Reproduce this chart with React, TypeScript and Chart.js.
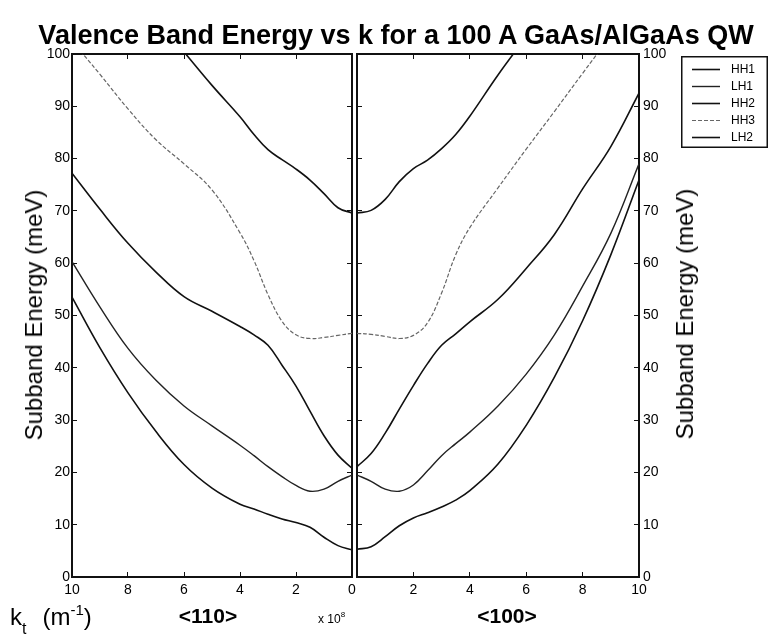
import React, { useEffect, useRef } from 'react';
import { Chart, registerables } from 'chart.js';

Chart.register(...registerables);

const FONT = '"Liberation Sans", Arial, Helvetica, sans-serif';

// ---------- data ----------
const SERIES_LABELS = ['HH1', 'LH1', 'HH2', 'HH3', 'LH2'];
const K_VALUES = [0, 0.5, 1, 1.5, 2, 2.5, 3, 3.5, 4, 5, 6, 7, 8, 9, 10]; // x 10^8 m^-1
const X_TICK_STEP = 2;
const Y_TICK_STEP = 10;

// <110> direction (left panel)
const HH1_110 = [5.2, 6.0, 7.6, 9.5, 10.4, 11.1, 12.0, 13.0, 13.9, 17.0, 21.5, 27.8, 35.2, 43.8, 53.5];
const LH1_110 = [19.5, 18.3, 16.8, 16.4, 17.5, 19.2, 21.1, 23.2, 25.2, 28.9, 32.7, 37.6, 43.7, 51.6, 60.3];
const HH2_110 = [20.8, 23.3, 27.0, 31.7, 36.5, 40.5, 44.3, 46.3, 47.9, 50.8, 53.6, 58.3, 63.8, 70.3, 77.2];
const HH3_110 = [46.6, 46.2, 45.8, 45.6, 46.3, 48.9, 54.0, 60.5, 65.8, 74.0, 79.0, 83.6, 89.5, 96.1, 102.5];
const LH2_110 = [69.6, 70.6, 73.3, 75.9, 78.0, 79.8, 81.7, 84.6, 88.0, 94.0, 100.4];

// <100> direction (right panel)
const HH1_100 = [5.3, 5.8, 7.7, 9.8, 11.3, 12.3, 13.4, 14.7, 16.5, 21.6, 29.0, 38.2, 49.0, 61.6, 75.9];
const LH1_100 = [19.5, 18.3, 16.8, 16.4, 17.6, 20.3, 23.2, 25.5, 27.7, 32.7, 38.8, 46.3, 55.6, 65.7, 79.0];
const HH2_100 = [21.1, 23.6, 27.5, 32.1, 36.6, 40.8, 44.3, 46.5, 48.8, 53.1, 59.0, 65.5, 74.2, 82.3, 92.5];
const HH3_100 = [46.6, 46.4, 46.0, 45.6, 46.2, 48.6, 54.3, 61.6, 66.8, 74.4, 81.8, 89.0, 96.3, 103.5];
const LH2_100 = [69.6, 70.1, 72.2, 75.6, 78.1, 79.7, 81.9, 84.6, 88.1, 96.0, 103.3];

const SERIES_110 = [HH1_110, LH1_110, HH2_110, HH3_110, LH2_110];
const SERIES_100 = [HH1_100, LH1_100, HH2_100, HH3_100, LH2_100];

// ---------- styles ----------
const LINE_STYLES = [
  { color: '#111', width: 1.6, dash: [] as number[] },
  { color: '#222', width: 1.4, dash: [] as number[] },
  { color: '#111', width: 1.6, dash: [] as number[] },
  { color: '#666', width: 1.2, dash: [4, 2] },
  { color: '#111', width: 1.6, dash: [] as number[] },
];

function buildDatasets(series: number[][]) {
  return series.map((vals, i) => ({
    label: SERIES_LABELS[i],
    data: vals.map((v, j) => ({ x: K_VALUES[j], y: v })),
    borderColor: LINE_STYLES[i].color,
    borderWidth: LINE_STYLES[i].width,
    borderDash: LINE_STYLES[i].dash,
    pointRadius: 0,
    fill: false,
    tension: 0.4,
  }));
}

const boxLegend = {
  id: 'boxLegend',
  afterDraw(chart: any) {
    const ctx = chart.ctx;
    const x0 = 681, y0 = 56, w = 87, h = 92;
    ctx.save();
    ctx.fillStyle = '#fff';
    ctx.fillRect(x0, y0, w, h);
    ctx.strokeStyle = '#111';
    ctx.lineWidth = 1.5;
    ctx.setLineDash([]);
    ctx.strokeRect(x0 + 0.75, y0 + 0.75, w - 1.5, h - 1.5);
    chart.data.datasets.forEach((ds: any, i: number) => {
      const y = y0 + 13.5 + i * 17;
      ctx.beginPath();
      ctx.setLineDash(ds.borderDash || []);
      ctx.strokeStyle = ds.borderColor;
      ctx.lineWidth = ds.borderWidth;
      ctx.moveTo(x0 + 11, y);
      ctx.lineTo(x0 + 39, y);
      ctx.stroke();
      ctx.setLineDash([]);
      ctx.fillStyle = '#000';
      ctx.font = `12px ${FONT}`;
      ctx.textBaseline = 'middle';
      ctx.textAlign = 'left';
      ctx.fillText(ds.label, x0 + 50, y);
    });
    ctx.restore();
  },
};

function makeOptions(isLeft: boolean): any {
  const tickFont = { family: FONT, size: 14 };
  const grid = { drawOnChartArea: false, drawTicks: true, tickLength: -5, color: '#111', lineWidth: 1 };
  const border = { display: true, color: '#111', width: 2 };
  return {
    responsive: false,
    animation: false,
    events: [],
    layout: {
      padding: isLeft
        ? { left: 0, top: 54, right: 417, bottom: 0 }
        : { left: 357, top: 54, right: 80, bottom: 0 },
    },
    plugins: {
      legend: { display: false },
      tooltip: { enabled: false },
      title: { display: false },
    },
    scales: {
      x: {
        type: 'linear',
        position: 'bottom',
        min: 0,
        max: 10,
        reverse: isLeft,
        ticks: {
          stepSize: X_TICK_STEP,
          font: tickFont,
          color: '#000',
          padding: 10,
          maxRotation: 0,
          autoSkip: false,
          callback: (v: number) => (!isLeft && v === 0 ? '' : String(v)),
        },
        grid,
        border,
        afterFit: (s: any) => { s.height = 60; },
      },
      xTop: {
        type: 'linear',
        position: 'top',
        min: 0,
        max: 10,
        reverse: isLeft,
        ticks: { stepSize: X_TICK_STEP, display: false },
        grid,
        border,
        afterFit: (s: any) => { s.height = 0; },
      },
      y: {
        type: 'linear',
        position: 'left',
        min: 0,
        max: 100,
        ticks: { stepSize: Y_TICK_STEP, display: isLeft, font: tickFont, color: '#000', padding: 7 },
        grid,
        border,
        afterFit: (s: any) => { s.width = isLeft ? 72 : 0; },
      },
      yRight: {
        type: 'linear',
        position: 'right',
        min: 0,
        max: 100,
        ticks: { stepSize: Y_TICK_STEP, display: !isLeft, font: tickFont, color: '#000', padding: 9 },
        grid,
        border,
        afterFit: (s: any) => { s.width = isLeft ? 0 : 50; },
      },
    },
  };
}

const textBase: React.CSSProperties = {
  position: 'absolute',
  whiteSpace: 'nowrap',
  fontFamily: FONT,
  color: '#000',
  lineHeight: 1,
};

export default function App() {
  const leftRef = useRef<HTMLCanvasElement>(null);
  const rightRef = useRef<HTMLCanvasElement>(null);

  useEffect(() => {
    Chart.defaults.font.family = FONT;
    Chart.defaults.color = '#000';
    const left = new Chart(leftRef.current!, {
      type: 'line',
      data: { datasets: buildDatasets(SERIES_110) },
      options: makeOptions(true),
    });
    const right = new Chart(rightRef.current!, {
      type: 'line',
      data: { datasets: buildDatasets(SERIES_100) },
      options: makeOptions(false),
      plugins: [boxLegend],
    });
    return () => {
      left.destroy();
      right.destroy();
    };
  }, []);

  const canvasStyle: React.CSSProperties = { position: 'absolute', left: 0, top: 0, width: 769, height: 637 };

  return (
    <div style={{ position: 'absolute', left: 0, top: 0, width: 769, height: 637, background: '#fff', overflow: 'hidden' }}>
      <canvas ref={leftRef} width={769} height={637} style={canvasStyle} />
      <canvas ref={rightRef} width={769} height={637} style={canvasStyle} />

      <div style={{ ...textBase, left: 21, width: 750, top: 22, textAlign: 'center', fontSize: 27, fontWeight: 'bold' }}>
        Valence Band Energy vs k for a 100 A GaAs/AlGaAs QW
      </div>

      <div style={{ ...textBase, left: 34, top: 315, fontSize: 24, transform: 'translate(-50%, -50%) rotate(-90deg)' }}>
        Subband Energy (meV)
      </div>
      <div style={{ ...textBase, left: 685, top: 314, fontSize: 24, transform: 'translate(-50%, -50%) rotate(-90deg)' }}>
        Subband Energy (meV)
      </div>

      <div style={{ ...textBase, left: 10, top: 602, fontSize: 24 }}>
        k<span style={{ fontSize: 16, verticalAlign: -9 }}>t</span>
        <span style={{ marginLeft: 16 }}>(m</span>
        <span style={{ fontSize: 15, verticalAlign: 10 }}>-1</span>)
      </div>
      <div style={{ ...textBase, left: 208, top: 605, fontSize: 21, fontWeight: 'bold', transform: 'translateX(-50%)' }}>
        &lt;110&gt;
      </div>
      <div style={{ ...textBase, left: 318, top: 611, fontSize: 12 }}>
        x 10<span style={{ fontSize: 8, verticalAlign: 6 }}>8</span>
      </div>
      <div style={{ ...textBase, left: 507, top: 605, fontSize: 21, fontWeight: 'bold', transform: 'translateX(-50%)' }}>
        &lt;100&gt;
      </div>
    </div>
  );
}
